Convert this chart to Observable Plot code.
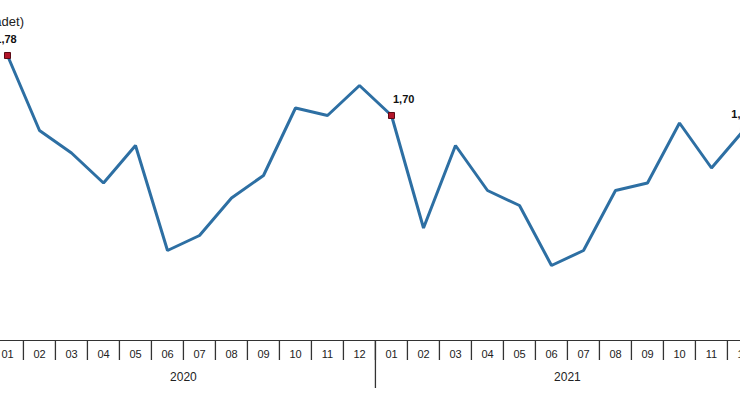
<!DOCTYPE html>
<html><head><meta charset="utf-8">
<script src="https://cdn.jsdelivr.net/npm/d3@7"></script>
<script src="https://cdn.jsdelivr.net/npm/@observablehq/plot@0.6"></script>
<style>html,body{margin:0;padding:0;background:#fff;overflow:hidden;}</style>
</head><body><div id="chart"></div>
<script>
const years = ["2020", "2021"];
const months = ["01","02","03","04","05","06","07","08","09","10","11","12"];
const values2020 = [1.78, 1.68, 1.65, 1.61, 1.66, 1.52, 1.54, 1.59, 1.62, 1.71, 1.70, 1.74];
const values2021 = [1.70, 1.55, 1.66, 1.60, 1.58, 1.50, 1.52, 1.60, 1.61, 1.69, 1.63, 1.68];
const labeledCentered = ["2020-01", "2021-12"];
const labeledRight = ["2021-01"];
const yearLabelAt = ["2020-07", "2021-07"];
const yearBoundary = ["2021-01"];
const unitLabel = "(adet)";

const seriesByYear = [values2020, values2021];
const data = [];
years.forEach((yr, i) => {
  months.forEach((m, j) => data.push({period: `${yr}-${m}`, year: yr, month: m, value: seriesByYear[i][j]}));
});
const periods = data.map(d => d.period);
const fmt = v => v.toFixed(2).replace(".", ",");
const step = (744.5 - 5) / 23;
const half = step / 2;
const marked = data.filter(d => labeledCentered.includes(d.period) || labeledRight.includes(d.period));

const plot = Plot.plot({
  width: 740, height: 400,
  marginTop: 0, marginRight: 0, marginBottom: 60, marginLeft: 0,
  style: {fontFamily: "'Liberation Sans', Arial, sans-serif", fontSize: "11px", color: "#222", background: "#fff", overflow: "hidden"},
  x: {type: "point", domain: periods, range: [5, 744.5], padding: 0, axis: null, label: null},
  y: {domain: [1.4, 1.8], range: [340, 40], axis: null, label: null},
  marks: [
    Plot.frame({anchor: "bottom", stroke: "#333", strokeWidth: 1.2}),
    Plot.axisX({tickSize: 20, tickFormat: () => "", dx: -half, stroke: "#333", strokeWidth: 1.3, label: null}),
    Plot.axisX({ticks: yearBoundary, tickSize: 48, tickFormat: () => "", dx: -half, stroke: "#333", strokeWidth: 1.3, label: null}),
    Plot.axisX({tickSize: 0, tickPadding: 10, tickFormat: d => d.slice(5), fontSize: 11, fill: "#222", label: null}),
    Plot.axisX({ticks: yearLabelAt, tickSize: 0, tickPadding: 32, dx: -half, tickFormat: d => d.slice(0, 4), fontSize: 12, fill: "#222", label: null}),
    Plot.line(data, {x: "period", y: "value", stroke: "#2d6fa3", strokeWidth: 3, strokeLinejoin: "miter"}),
    Plot.dot(marked, {x: "period", y: "value", symbol: "square", r: 3.4, fill: "#b3152a", stroke: "#5c0a14", strokeWidth: 1}),
    Plot.text(data.filter(d => labeledCentered.includes(d.period)), {x: "period", y: "value", text: d => fmt(d.value), dx: -1.5, dy: -16, lineAnchor: "middle", fontWeight: "bold", fontSize: 11, fill: "#111"}),
    Plot.text(data.filter(d => labeledRight.includes(d.period)), {x: "period", y: "value", text: d => fmt(d.value), dx: 1.5, dy: -16, textAnchor: "start", lineAnchor: "middle", fontWeight: "bold", fontSize: 11, fill: "#111"}),
    Plot.text([unitLabel], {frameAnchor: "top-left", textAnchor: "end", dx: 23.5, dy: 21.7, lineAnchor: "middle", fontSize: 13, fill: "#222"})
  ]
});
document.getElementById("chart").appendChild(plot);
</script>
</body></html>
